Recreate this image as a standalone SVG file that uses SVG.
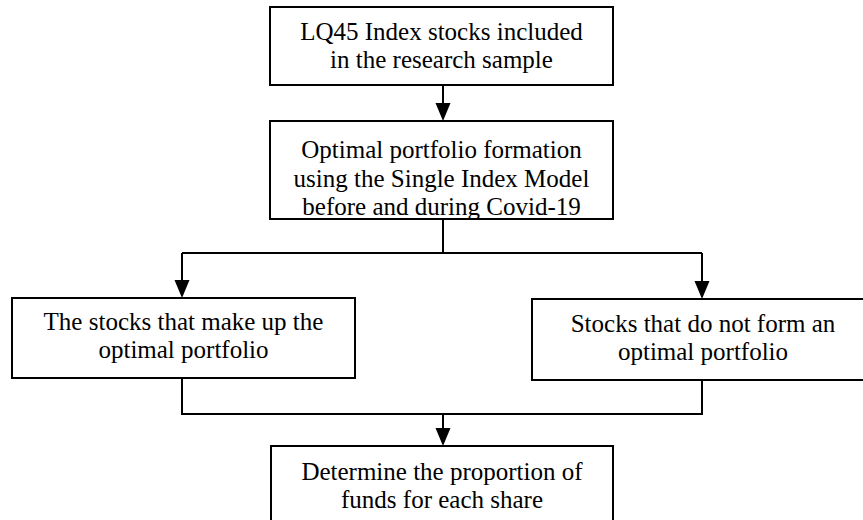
<svg xmlns="http://www.w3.org/2000/svg" width="863" height="520" viewBox="0 0 863 520">
<style>
.box{fill:#fff;stroke:#000;stroke-width:2}
.t{font-size:25px;fill:#000;text-anchor:middle}
.c{fill:none;stroke:#000;stroke-width:2}
</style>
<defs>
<clipPath id="cp2"><rect x="270" y="121" width="343" height="98"/></clipPath>
</defs>
<rect width="863" height="520" fill="#fff"/>
<g id="connectors">
<path class="c" d="M443,85 V103"/>
<path d="M435.5,103 L450.5,103 L443,121 Z" fill="#000"/>
<path class="c" d="M443,219 V253 M182,253 H702"/>
<path class="c" d="M182,253 V280"/>
<path d="M174.5,280 L189.5,280 L182,298 Z" fill="#000"/>
<path class="c" d="M702,253 V281"/>
<path d="M694.5,281 L709.5,281 L702,299 Z" fill="#000"/>
<path class="c" d="M182,378 V414 H702 V380"/>
<path class="c" d="M443,414 V428"/>
<path d="M435.5,428 L450.5,428 L443,446 Z" fill="#000"/>
</g>
<g font-family="'Liberation Serif', 'Times New Roman', 'DejaVu Serif', serif">
<g id="n1">
<rect class="box" x="270" y="7" width="343" height="78"/>
<text class="t" x="441.5" y="40">LQ45 Index stocks included</text>
<text class="t" x="441.5" y="68">in the research sample</text>
</g>
<g id="n2">
<rect class="box" x="270" y="121" width="343" height="98"/>
<g clip-path="url(#cp2)">
<text class="t" x="441.5" y="158">Optimal portfolio formation</text>
<text class="t" x="441.5" y="187">using the Single Index Model</text>
<text class="t" x="441.5" y="215">before and during Covid-19</text>
</g>
</g>
<g id="n3">
<rect class="box" x="12" y="298" width="343" height="80"/>
<text class="t" x="183.5" y="330">The stocks that make up the</text>
<text class="t" x="183.5" y="358">optimal portfolio</text>
</g>
<g id="n4">
<rect class="box" x="532" y="299" width="340" height="81"/>
<text class="t" x="703" y="332">Stocks that do not form an</text>
<text class="t" x="703" y="360">optimal portfolio</text>
</g>
<g id="n5">
<rect class="box" x="271" y="446" width="342" height="84"/>
<text class="t" x="442" y="480">Determine the proportion of</text>
<text class="t" x="442" y="508">funds for each share</text>
</g>
</g>
</svg>
